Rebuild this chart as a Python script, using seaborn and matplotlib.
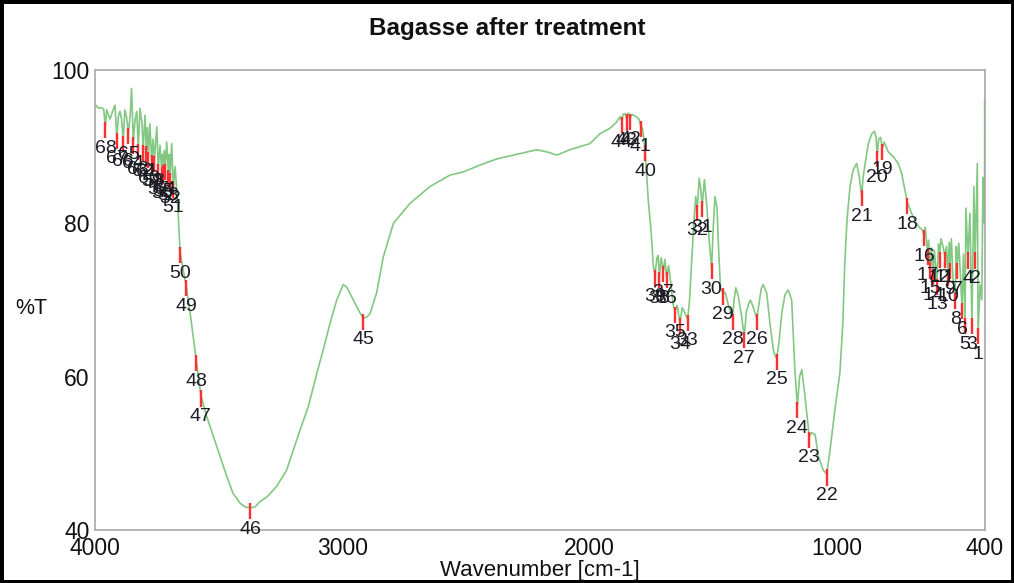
import matplotlib
matplotlib.use("Agg")
import matplotlib.pyplot as plt
import numpy as np
import pandas as pd
import seaborn as sns
from matplotlib.patches import Rectangle

# ---------------- data ----------------
wn_a = [4000, 3996, 3985, 3975, 3965, 3958, 3953, 3946, 3939, 3930, 3919, 3912, 3905, 3899, 3892,
        3886, 3879, 3872, 3865, 3858, 3852, 3845, 3838, 3831, 3825, 3818, 3810, 3805, 3798, 3792,
        3788, 3784, 3778, 3771, 3765, 3760, 3750, 3744, 3737, 3730, 3727, 3724, 3720, 3716, 3710,
        3703, 3699, 3696, 3690, 3683, 3676]
t_a = [95.3, 95.4, 95.0, 95.1, 94.9, 92.6, 94.8, 94.2, 93.6, 94.5, 95.4, 91.2, 94.0, 94.6, 93.5,
       90.8, 94.8, 93.8, 91.8, 94.0, 97.6, 90.6, 93.5, 94.6, 89.8, 95.0, 93.0, 89.6, 94.1, 89.5,
       92.5, 88.7, 93.0, 88.3, 91.0, 88.2, 92.6, 87.2, 90.2, 86.7, 89.0, 87.0, 89.5, 87.2, 90.6,
       86.4, 89.0, 86.0, 90.4, 84.8, 87.4]

wn_b = [3664, 3656, 3644, 3632, 3616, 3596, 3591, 3580, 3572, 3548, 3521, 3494, 3467, 3442, 3413,
        3393, 3373, 3353, 3333, 3305, 3265, 3225, 3198, 3171, 3137, 3103, 3077, 3049, 3022, 2996,
        2982, 2955, 2928, 2915, 2900, 2888, 2861, 2834, 2793, 2726, 2645, 2564, 2510, 2443, 2375,
        2294, 2213, 2170, 2132, 2079, 1998]
t_b = [81.7, 76.3, 74.0, 72.0, 68.5, 63.5, 62.2, 59.5, 57.6, 54.8, 52.2, 49.6, 47.0, 44.8, 43.5,
       43.0, 42.9, 43.0, 43.7, 44.3, 45.7, 47.8, 50.4, 53.0, 56.1, 60.4, 63.5, 67.0, 70.0, 72.0,
       71.7, 70.0, 68.3, 67.6, 67.8, 68.2, 70.9, 75.6, 80.0, 82.6, 84.8, 86.3, 86.7, 87.6, 88.4,
       89.0, 89.6, 89.3, 88.9, 89.6, 90.4]

wn_c = [1957, 1917, 1890, 1876, 1870, 1864, 1856, 1849, 1843, 1836, 1828, 1815, 1800, 1793, 1785,
        1775, 1762, 1750, 1742, 1735, 1727, 1722, 1717, 1710, 1701, 1695, 1688, 1680, 1670, 1662,
        1654, 1645, 1634, 1625, 1618, 1603,
        1595, 1585, 1578, 1570, 1564, 1556, 1550, 1544, 1535, 1525, 1515, 1506,
        1499, 1492, 1484, 1478, 1470, 1459, 1452, 1447, 1437, 1421, 1415, 1408, 1398, 1385, 1374,
        1365, 1355, 1349, 1340, 1323, 1315, 1305, 1297, 1283, 1270, 1256, 1250, 1243, 1235, 1222,
        1209, 1196, 1182, 1169, 1159, 1150, 1141, 1128, 1111, 1101, 1087, 1074, 1054, 1040, 1027,
        1007]
t_c = [91.7, 92.4, 93.2, 93.9, 93.3, 94.2, 94.3, 93.6, 94.4, 93.7, 94.2, 94.0, 93.6, 92.8, 92.3,
       89.6, 83.0, 78.7, 74.5, 73.3, 75.5, 75.8, 73.0, 75.5, 73.8, 75.3, 73.0, 74.5, 72.0, 69.5,
       68.5, 69.3, 67.0, 69.0, 68.6, 67.5,
       70.0, 76.0, 80.0, 83.5, 81.8, 85.9, 84.5, 82.3, 85.7, 82.2, 77.5, 74.2,
       79.6, 83.5, 82.0, 77.0, 71.5, 70.9, 71.0, 70.5, 69.2, 67.6, 70.0, 71.6, 70.5, 68.0, 65.2,
       68.5, 69.6, 70.0, 69.3, 67.6, 69.3, 71.5, 72.0, 70.9, 67.0, 63.5, 62.8, 62.4, 64.0, 68.3,
       70.7, 71.3, 70.0, 60.9, 56.1, 60.0, 60.9, 57.4, 52.2, 52.7, 52.4, 49.6, 47.8, 47.3, 50.4,
       55.7]

wn_d = [987, 975, 967, 958, 946, 933, 919, 909, 899, 893, 885, 872, 858, 847, 841,
        836, 830, 822, 815, 808, 791, 771, 751, 737, 725, 714, 705, 697, 677, 663,
        655, 647, 642, 636, 632, 628, 622, 617, 610, 605, 598, 594, 588, 584, 578,
        570, 562, 556, 550, 545, 542, 536, 530, 521, 516, 513, 506, 499, 493, 487,
        481, 477, 469, 461, 453, 445, 440, 431, 428, 420, 413, 408, 404, 402, 401, 400]
t_d = [60.5, 67.0, 75.0, 80.5, 84.8, 87.0, 87.8, 86.1, 83.7, 86.0, 87.8, 90.4, 91.7, 92.0, 91.3,
       88.8, 91.0, 91.2, 89.8, 90.6, 89.3, 88.7, 87.8, 86.5, 84.5, 82.7, 82.0, 81.3, 80.0, 79.4,
       79.2, 78.5, 79.5, 77.5, 76.0, 77.8, 74.3, 76.8, 73.4, 76.5, 74.0, 72.2, 77.3, 75.7, 78.0,
       77.0, 75.7, 77.0, 73.3, 77.5, 74.2, 78.0, 73.0, 70.3, 77.0, 74.2, 77.4, 73.0, 69.0, 76.0,
       67.0, 82.0, 75.6, 81.3, 67.0, 84.8, 75.6, 87.8, 65.7, 72.0, 70.0, 86.0, 84.0, 80.0, 96.2, 86.5]

peak_no = list(range(1, 69))
peak_wn = [428, 440, 453, 469, 481, 493, 513, 521, 542, 550, 562, 584, 594, 610, 622, 647, 632,
           714, 815, 836, 899, 1040, 1111, 1159, 1243, 1323, 1374, 1421, 1459, 1506, 1544, 1564,
           1603, 1634, 1654, 1688, 1701, 1717, 1735, 1775, 1793, 1836, 1849, 1870, 2915, 3373,
           3572, 3591, 3632, 3656, 3683, 3696, 3703, 3716, 3724, 3730, 3744, 3760, 3771, 3784,
           3792, 3805, 3825, 3845, 3865, 3886, 3912, 3958]
peak_t = [65.7, 75.6, 67.0, 75.6, 67.0, 69.0, 74.2, 70.3, 74.2, 73.3, 75.7, 75.7, 72.2, 73.4, 74.3,
          78.5, 76.0, 82.7, 89.8, 88.8, 83.7, 47.3, 52.2, 56.1, 62.4, 67.6, 65.2, 67.6, 70.9, 74.2,
          82.3, 81.8, 67.5, 67.0, 68.5, 73.0, 73.8, 73.0, 73.3, 89.6, 92.8, 93.7, 93.6, 93.3, 67.6,
          42.9, 57.6, 62.2, 72.0, 76.3, 84.8, 86.0, 86.4, 87.2, 87.0, 86.7, 87.2, 88.2, 88.3, 88.7,
          89.5, 89.6, 89.8, 90.6, 91.8, 90.8, 91.2, 92.6]

x_major = [4000, 3000, 2000, 1000, 400]
x_minor = [3500, 2500, 1500, 500]
y_major = [40, 60, 80, 100]
y_minor = [50, 70, 90]

title = "Bagasse after treatment"
xlabel = "Wavenumber [cm-1]"
ylabel = "%T"

# ---------------- plotting ----------------
sns.set_theme(style="white")
plt.rcParams["font.family"] = ["Liberation Sans", "DejaVu Sans"]

spec = pd.DataFrame({"wn": wn_a + wn_b + wn_c + wn_d,
                     "T": t_a + t_b + t_c + t_d})
peaks = pd.DataFrame({"no": peak_no, "wn": peak_wn, "T": peak_t})

fig = plt.figure(figsize=(10.14, 5.83), dpi=100, facecolor="white")
ax = fig.add_axes([95 / 1014, 53 / 583, 890 / 1014, 460 / 583])

sns.lineplot(data=spec, x="wn", y="T", ax=ax, color="#82c882", linewidth=1.2,
             estimator=None, sort=False, zorder=2)

ax.vlines(peaks["wn"], peaks["T"] - 1.5, peaks["T"] + 0.6, colors="#ff3030",
          linewidth=1.7, zorder=3)
for n, w, t in zip(peaks["no"], peaks["wn"], peaks["T"]):
    ax.text(w, t - 2.8, str(n), ha="center", va="center", fontsize=14,
            color="#1c1c24", zorder=4, clip_on=False)

ax.set_xlim(4000, 400)
ax.set_ylim(40, 100)
ax.set_xticks(x_major)
ax.set_xticklabels([str(v) for v in x_major])
ax.set_xticks(x_minor, minor=True)
ax.set_yticks(y_major)
ax.set_yticklabels([str(v) for v in y_major])
ax.set_yticks(y_minor, minor=True)
ax.tick_params(axis="both", which="both", direction="in", color="#909090",
               width=1.0, labelsize=16.5, labelcolor="#111111")
ax.tick_params(axis="x", which="both", length=8, pad=5)
ax.tick_params(axis="y", which="major", length=9, pad=4)
ax.tick_params(axis="y", which="minor", length=5)

for s in ax.spines.values():
    s.set_color("#a8a8a8")
    s.set_linewidth(1.2)

ax.set_xlabel(xlabel, fontsize=16, labelpad=0, color="#111111")
ax.set_ylabel(ylabel, fontsize=15.5, rotation=0, color="#111111", ha="center", va="center")
ax.yaxis.set_label_coords(-(95 - 31) / 890, (530 - 308) / 460)

fig.text(507 / 1014, 1 - 28 / 583, title, ha="center", va="center",
         fontsize=17.5, fontweight="bold", color="#111111")

fig.add_artist(Rectangle((0, 0), 1, 1, transform=fig.transFigure, fill=False,
                         edgecolor="black", linewidth=5))

fig.savefig("out.png", dpi=100, facecolor="white")
